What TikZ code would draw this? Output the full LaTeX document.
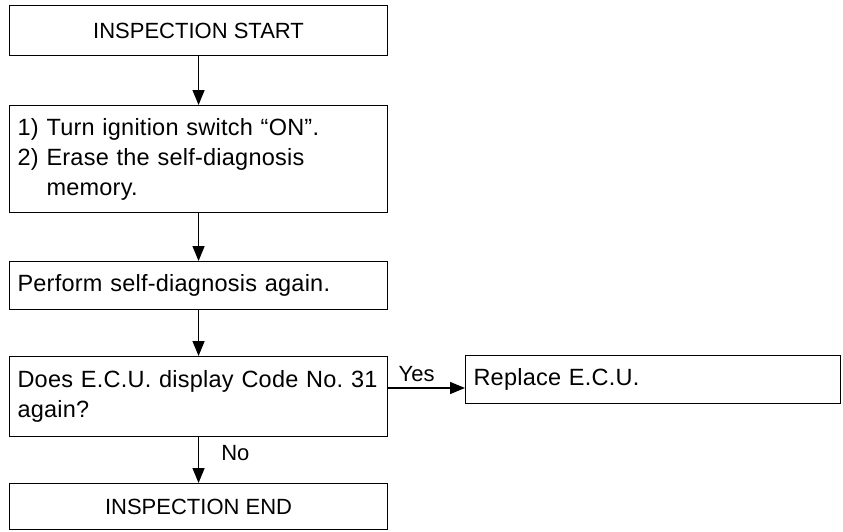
\documentclass[tikz,border=0pt]{standalone}
\usepackage{fontspec}
\setmainfont{Liberation Sans}
\newfontfamily\bodyfont[LetterSpace=1.0]{Liberation Sans}
\usetikzlibrary{arrows.meta}
\begin{document}
\frenchspacing
\begin{tikzpicture}[x=1pt,y=-1pt,
  every node/.style={font=\fontsize{22}{30}\selectfont},
  flowbox/.style={draw, line width=1.1pt, rectangle, inner xsep=8pt, inner ysep=0pt, anchor=north west},
  leftbox/.style={flowbox, text width=362pt, align=left, font=\bodyfont\fontsize{23.5}{30}\selectfont},
  arr/.style={line width=1.4pt, -{Triangle[length=15pt,width=12pt]}},
  lbl/.style={inner sep=0pt}]
\useasboundingbox (0,0) rectangle (843,531);
\node[flowbox, minimum width=378pt, minimum height=50pt] (start) at (9,5) {INSPECTION START};
\node[leftbox, minimum height=107pt] (turn) at (9,105) {1) Turn ignition switch “ON”.\\2) Erase the self-diagnosis\\\hphantom{2) }memory.};
\node[leftbox, minimum height=48pt] (perf) at (9,261) {Perform self-diagnosis again.};
\node[leftbox, minimum height=80pt] (does) at (9,356) {Does E.C.U. display Code No. 31\\again?};
\node[flowbox, minimum width=378pt, minimum height=46pt] (fin) at (9,483) {INSPECTION END};
\node[leftbox, text width=359pt, minimum height=48pt] (repl) at (465,355) {Replace E.C.U.};
\coordinate (yesy) at (0,388);
\draw[arr] (start.south) -- (turn.north);
\draw[arr] (turn.south) -- (perf.north);
\draw[arr] (perf.south) -- (does.north);
\draw[arr] (does.south) -- node[lbl, pos=0.35, anchor=west, xshift=22pt] (nolbl) {No} (fin.north);
\draw[arr] (does.east |- yesy) -- node[lbl, pos=0.37, anchor=south, yshift=6pt] (yeslbl) {Yes} (repl.west |- yesy);
\end{tikzpicture}
\end{document}
